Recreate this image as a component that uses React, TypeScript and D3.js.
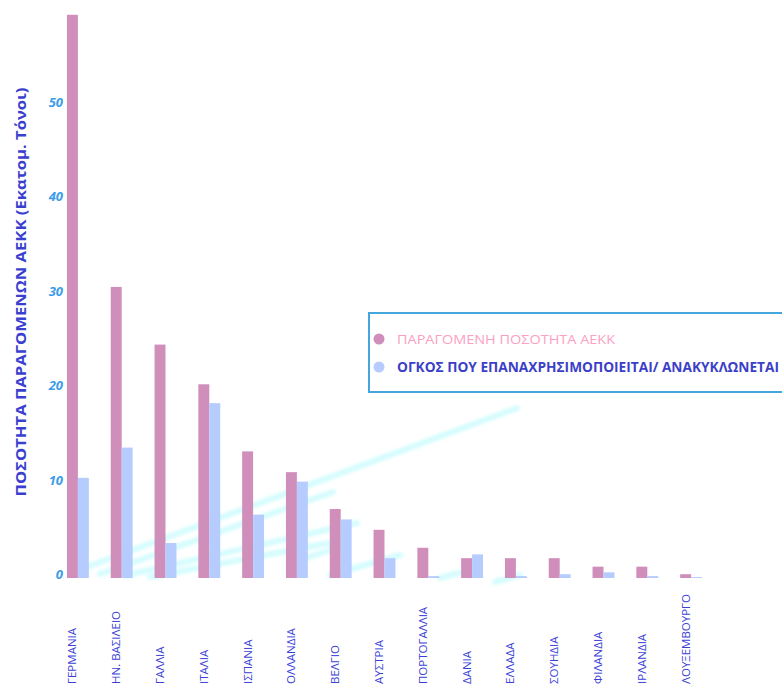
import React from "react";
import * as d3 from "d3";

const countries = [
  "ΓΕΡΜΑΝΙΑ", "ΗΝ. ΒΑΣΙΛΕΙΟ", "ΓΑΛΛΙΑ", "ΙΤΑΛΙΑ", "ΙΣΠΑΝΙΑ", "ΟΛΛΑΝΔΙΑ", "ΒΕΛΓΙΟ",
  "ΑΥΣΤΡΙΑ", "ΠΟΡΤΟΓΑΛΛΙΑ", "ΔΑΝΙΑ", "ΕΛΛΑΔΑ", "ΣΟΥΗΔΙΑ", "ΦΙΛΑΝΔΙΑ", "ΙΡΛΑΝΔΙΑ", "ΛΟΥΞΕΜΒΟΥΡΓΟ",
];
const produced = [59.6, 30.8, 24.7, 20.5, 13.4, 11.2, 7.3, 5.1, 3.2, 2.1, 2.1, 2.1, 1.2, 1.2, 0.4];
const recycled = [10.6, 13.8, 3.7, 18.5, 6.7, 10.2, 6.2, 2.1, 0.2, 2.5, 0.2, 0.4, 0.6, 0.2, 0.1];
const yTicks = [0, 10, 20, 30, 40, 50];
const seriesNames = ["ΠΑΡΑΓΟΜΕΝΗ ΠΟΣΟΤΗΤΑ ΑΕΚΚ", "ΟΓΚΟΣ ΠΟΥ ΕΠΑΝΑΧΡΗΣΙΜΟΠΟΙΕΙΤΑΙ/ ΑΝΑΚΥΚΛΩΝΕΤΑΙ"];
const yTitle = "ΠΟΣΟΤΗΤΑ ΠΑΡΑΓΟΜΕΝΩΝ ΑΕΚΚ (Εκατομ. Τόνοι)";

const PINK = "#d08fbb";
const BLUE = "#b6cbfe";

// decorative background streaks [x1, y1, x2, y2]
const streaks = [
  [87, 567, 517, 408],
  [100, 574, 333, 492],
  [127, 575, 357, 523],
  [150, 577, 345, 540],
  [300, 560, 345, 545],
  [330, 575, 400, 555],
  [440, 578, 470, 570],
  [495, 582, 520, 575],
];

export default function App() {
  const W = 782, H = 686;
  const x = d3.scaleBand<string>().domain(countries).range([56, 713]).paddingInner(0.5).paddingOuter(0.25);
  const sub = d3.scaleBand<string>().domain(["p", "r"]).range([0, x.bandwidth()]);
  const y = d3.scaleLinear().domain([0, 60]).range([578, 11]);

  return (
    <svg width={W} height={H} style={{ position: "absolute", left: 0, top: 0, background: "#fff" }}
      fontFamily="'Open Sans', 'Noto Sans', sans-serif">
      <defs>
        <filter id="blur" x="-20%" y="-50%" width="140%" height="200%">
          <feGaussianBlur stdDeviation="1.8" />
        </filter>
      </defs>
      <g filter="url(#blur)" opacity={0.7}>
        {streaks.map((s, i) => (
          <line key={i} x1={s[0]} y1={s[1]} x2={s[2]} y2={s[3]} stroke="#c4fbfd" strokeWidth={6} strokeLinecap="round" />
        ))}
      </g>

      {/* y tick labels */}
      {yTicks.map((t) => (
        <text key={t} x={63} y={y(t) - 4} textAnchor="end" dominantBaseline="central"
          fontSize={13} fontStyle="italic" fontWeight="bold" fill="#3c9be8">{t}</text>
      ))}

      {/* y title */}
      <text transform={`translate(20,292) rotate(-90)`} textAnchor="middle" dominantBaseline="central"
        fontSize={15} fontWeight="bold" fill="#3b3fcf" textLength={409} lengthAdjust="spacingAndGlyphs">{yTitle}</text>

      {/* bars */}
      {countries.map((c, i) => (
        <g key={c} transform={`translate(${x(c)},0)`}>
          <rect x={sub("p")} y={y(produced[i])} width={sub.bandwidth()} height={y(0) - y(produced[i])} fill={PINK} />
          <rect x={sub("r")} y={y(recycled[i])} width={sub.bandwidth()} height={y(0) - y(recycled[i])} fill={BLUE} />
        </g>
      ))}

      {/* x labels */}
      {countries.map((c) => {
        const cx = (x(c) as number) + (sub("p") as number) + sub.bandwidth() / 2;
        return (
          <text key={c} transform={`translate(${cx},684) rotate(-90)`} textAnchor="start" dy="0.35em"
            fontSize={11.5} fill="#3b3fd6">{c}</text>
        );
      })}

      {/* legend */}
      <rect x={369} y={313} width={430} height={79} fill="#fff" stroke="#44a6dc" strokeWidth={2} />
      <circle cx={379} cy={339} r={5.5} fill={PINK} />
      <text x={397} y={339} dominantBaseline="central" fontSize={13.5} fill="#fb9fc3"
        textLength={218} lengthAdjust="spacingAndGlyphs">{seriesNames[0]}</text>
      <circle cx={379} cy={367} r={5.5} fill={BLUE} />
      <text x={397} y={367} dominantBaseline="central" fontSize={13.5} fontWeight="bold" fill="#3b3fc8"
        textLength={382} lengthAdjust="spacingAndGlyphs">{seriesNames[1]}</text>
    </svg>
  );
}
